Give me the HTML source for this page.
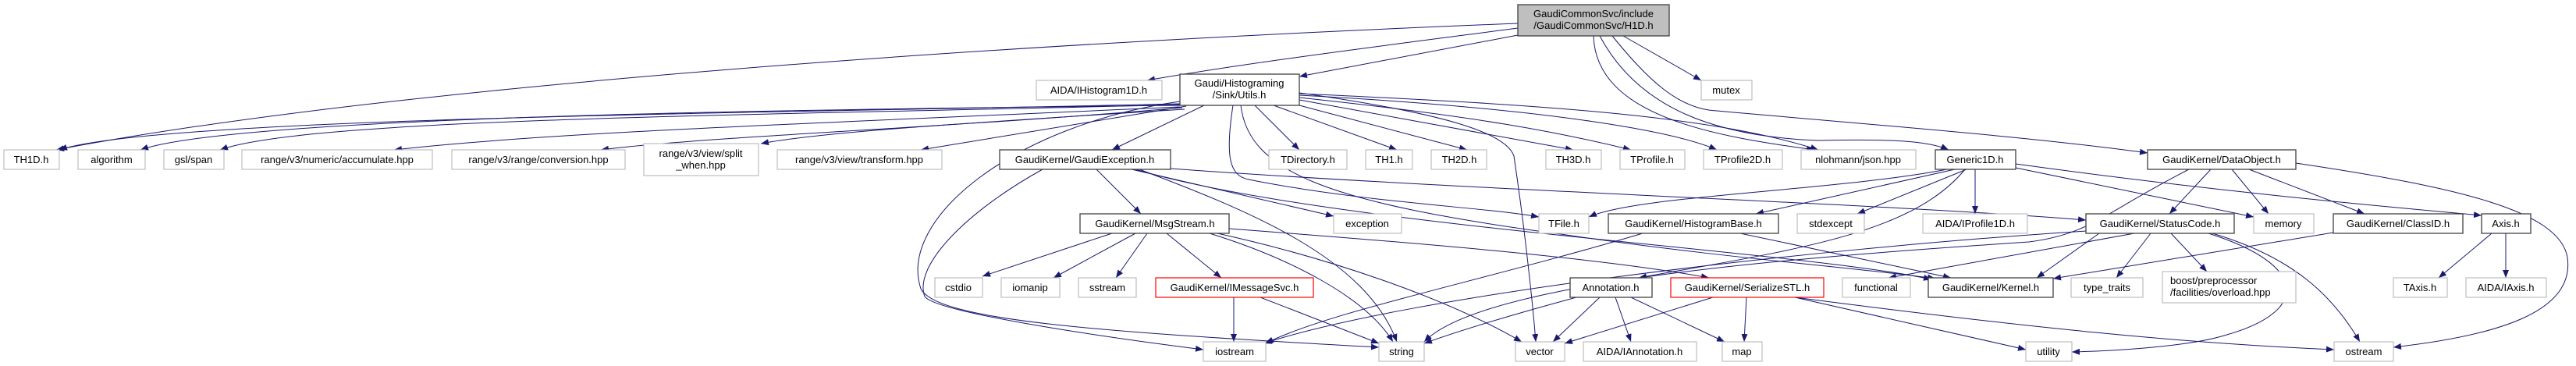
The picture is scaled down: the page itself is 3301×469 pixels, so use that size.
<!DOCTYPE html>
<html><head><meta charset="utf-8"><style>
html,body{margin:0;padding:0;background:#fff;}
svg{display:block;}
text{font-family:"Liberation Sans",sans-serif;font-size:13px;fill:#000;text-anchor:middle;}
.g{fill:#fff;stroke:#bfbfbf;stroke-width:1.2;}
.b{fill:#fff;stroke:#404040;stroke-width:1.3;}
.r{fill:#fff;stroke:#ff0000;stroke-width:1.2;}
.t{fill:#bfbfbf;stroke:#404040;stroke-width:1.3;}
path.e{fill:none;stroke:#191970;stroke-width:1;marker-end:url(#a);}
</style></head><body>
<svg width="3301" height="469" viewBox="0 0 3301 469" xmlns="http://www.w3.org/2000/svg">
<defs><marker id="a" markerUnits="userSpaceOnUse" markerWidth="11" markerHeight="8" refX="10" refY="4" orient="auto"><path d="M0,0 L10,4 L0,8 z" fill="#191970"/></marker></defs>
<g>
<!-- H1D -->
<path class="e" d="M1945,30 C1300,55 500,110 72,192"/>
<path class="e" d="M1945,36 C1800,55 1600,80 1470,103"/>
<path class="e" d="M1945,45 L1665,98"/>
<path class="e" d="M2042,46 C2045,150 2200,175 2325,192"/>
<path class="e" d="M2050,46 C2100,140 2200,175 2330,180 C2420,178 2470,180 2497,192"/>
<path class="e" d="M2066,46 C2110,100 2150,140 2200,142 C2400,160 2600,175 2752,196"/>
<path class="e" d="M2080,46 L2180,103"/>
<!-- Utils -->
<path class="e" d="M1512,133 C1000,145 200,150 76,192"/>
<path class="e" d="M1512,135 C1000,140 300,150 180,192"/>
<path class="e" d="M1512,134 C1000,148 400,150 282,192"/>
<path class="e" d="M1512,137 C1000,160 700,170 505,192"/>
<path class="e" d="M1515,138 C1200,165 900,175 770,192"/>
<path class="e" d="M1518,140 C1200,160 1050,170 975,184"/>
<path class="e" d="M1520,136 L1180,192"/>
<path class="e" d="M1543,135 L1425,192"/>
<path class="e" d="M1608,135 L1665,192"/>
<path class="e" d="M1632,135 L1790,192"/>
<path class="e" d="M1665,135 L1880,192"/>
<path class="e" d="M1665,128 L2016,192"/>
<path class="e" d="M1665,125 C1900,150 2000,170 2090,192"/>
<path class="e" d="M1665,122 C2000,140 2150,170 2200,192"/>
<path class="e" d="M1665,120 C2000,135 2200,150 2330,192"/>
<path class="e" d="M1580,135 C1570,200 1575,225 1600,230 C1750,260 1900,265 1972,278"/>
<path class="e" d="M1665,119 C1850,145 1930,170 1940,200 C1955,300 1965,400 1968,438"/>
<path class="e" d="M1512,130 C1300,160 1150,280 1180,370 C1200,410 1400,425 1767,445"/>
<path class="e" d="M1590,135 C1600,220 1700,260 2000,300 C2200,330 2400,345 2480,357"/>
<!-- GaudiException -->
<path class="e" d="M1405,217 L1462,274"/>
<path class="e" d="M1450,217 L1709,277"/>
<path class="e" d="M1460,217 C1600,270 1750,330 1790,438"/>
<path class="e" d="M1500,216 C1900,245 2400,260 2673,282"/>
<path class="e" d="M1455,217 C1700,290 2300,320 2475,358"/>
<path class="e" d="M1336,217 C1240,270 1170,340 1185,380 C1200,400 1400,430 1542,448"/>
<!-- MsgStream -->
<path class="e" d="M1425,299 L1259,354"/>
<path class="e" d="M1455,299 L1350,356"/>
<path class="e" d="M1470,299 L1430,356"/>
<path class="e" d="M1495,299 L1565,356"/>
<path class="e" d="M1550,299 C1650,330 1750,380 1785,438"/>
<path class="e" d="M1560,299 C1700,330 1850,380 1950,438"/>
<path class="e" d="M1575,293 C1800,310 2050,330 2190,356"/>
<!-- IMessageSvc -->
<path class="e" d="M1581,381 L1581,438"/>
<path class="e" d="M1615,381 L1767,440"/>
<!-- HistogramBase -->
<path class="e" d="M2105,299 C1900,360 1700,400 1622,440"/>
<path class="e" d="M2230,299 L2500,356"/>
<!-- Generic1D -->
<path class="e" d="M2495,217 C2350,245 2100,250 2036,278"/>
<path class="e" d="M2505,217 L2250,274"/>
<path class="e" d="M2520,217 L2380,274"/>
<path class="e" d="M2531,217 L2531,274"/>
<path class="e" d="M2518,217 C2450,300 2300,320 2100,356"/>
<path class="e" d="M2583,210 C2800,240 3000,260 3180,276"/>
<path class="e" d="M2583,215 L2888,278"/>
<!-- DataObject -->
<path class="e" d="M2833,217 L2780,274"/>
<path class="e" d="M2860,217 L2907,274"/>
<path class="e" d="M2882,217 L3030,274"/>
<path class="e" d="M2942,209 C3150,240 3280,270 3290,330 C3300,400 3200,430 3067,445"/>
<path class="e" d="M2805,217 C2700,270 2680,300 2600,310 C2300,330 1900,360 1825,438"/>
<!-- StatusCode -->
<path class="e" d="M2690,299 L2610,356"/>
<path class="e" d="M2735,299 L2420,356"/>
<path class="e" d="M2756,299 L2712,356"/>
<path class="e" d="M2782,299 L2828,348"/>
<path class="e" d="M2830,299 C2960,340 2960,400 2850,430 C2800,445 2700,450 2655,451"/>
<path class="e" d="M2835,299 C2940,330 2990,380 3024,438"/>
<path class="e" d="M2673,296 C2300,320 1800,380 1620,440"/>
<!-- ClassID, Axis -->
<path class="e" d="M2990,298 L2631,357"/>
<path class="e" d="M3193,299 L3125,356"/>
<path class="e" d="M3211,299 L3211,356"/>
<!-- Annotation -->
<path class="e" d="M2050,381 L1990,438"/>
<path class="e" d="M2070,381 L2090,438"/>
<path class="e" d="M2090,381 L2210,438"/>
<path class="e" d="M2020,381 C1950,400 1880,420 1825,440"/>
<!-- SerializeSTL -->
<path class="e" d="M2195,381 L2005,440"/>
<path class="e" d="M2238,381 L2235,438"/>
<path class="e" d="M2300,381 L2596,448"/>
<path class="e" d="M2300,381 C2600,420 2800,440 2991,448"/>
</g>
<g>
<rect class="t" x="1945" y="6" width="194" height="40"/><text x="2042" y="22">GaudiCommonSvc/include</text><text x="2042" y="37">/GaudiCommonSvc/H1D.h</text>
<rect class="g" x="1328" y="103" width="161" height="25"/><text x="1408" y="120">AIDA/IHistogram1D.h</text>
<rect class="b" x="1512" y="95" width="153" height="40"/><text x="1588" y="111">Gaudi/Histograming</text><text x="1588" y="126">/Sink/Utils.h</text>
<rect class="g" x="2180" y="103" width="65" height="25"/><text x="2212" y="120">mutex</text>

<rect class="g" x="5" y="192" width="71" height="25"/><text x="40" y="209">TH1D.h</text>
<rect class="g" x="100" y="192" width="86" height="25"/><text x="143" y="209">algorithm</text>
<rect class="g" x="210" y="192" width="77" height="25"/><text x="248" y="209">gsl/span</text>
<rect class="g" x="310" y="192" width="244" height="25"/><text x="432" y="209">range/v3/numeric/accumulate.hpp</text>
<rect class="g" x="579" y="192" width="222" height="25"/><text x="690" y="209">range/v3/range/conversion.hpp</text>
<rect class="g" x="825" y="184" width="147" height="41"/><text x="898" y="201">range/v3/view/split</text><text x="898" y="216">_when.hpp</text>
<rect class="g" x="996" y="192" width="211" height="25"/><text x="1101" y="209">range/v3/view/transform.hpp</text>
<rect class="b" x="1281" y="192" width="219" height="25"/><text x="1390" y="209">GaudiKernel/GaudiException.h</text>
<rect class="g" x="1626" y="192" width="100" height="25"/><text x="1676" y="209">TDirectory.h</text>
<rect class="g" x="1750" y="192" width="60" height="25"/><text x="1780" y="209">TH1.h</text>
<rect class="g" x="1834" y="192" width="71" height="25"/><text x="1870" y="209">TH2D.h</text>
<rect class="g" x="1981" y="192" width="71" height="25"/><text x="2016" y="209">TH3D.h</text>
<rect class="g" x="2076" y="192" width="83" height="25"/><text x="2117" y="209">TProfile.h</text>
<rect class="g" x="2183" y="192" width="101" height="25"/><text x="2233" y="209">TProfile2D.h</text>
<rect class="g" x="2308" y="192" width="147" height="25"/><text x="2381" y="209">nlohmann/json.hpp</text>
<rect class="b" x="2480" y="192" width="103" height="25"/><text x="2531" y="209">Generic1D.h</text>
<rect class="b" x="2752" y="192" width="190" height="25"/><text x="2847" y="209">GaudiKernel/DataObject.h</text>

<rect class="b" x="1384" y="274" width="191" height="25"/><text x="1480" y="291">GaudiKernel/MsgStream.h</text>
<rect class="g" x="1709" y="274" width="87" height="25"/><text x="1752" y="291">exception</text>
<rect class="g" x="1972" y="274" width="64" height="25"/><text x="2004" y="291">TFile.h</text>
<rect class="b" x="2061" y="274" width="218" height="25"/><text x="2170" y="291">GaudiKernel/HistogramBase.h</text>
<rect class="g" x="2303" y="274" width="86" height="25"/><text x="2346" y="291">stdexcept</text>
<rect class="g" x="2464" y="274" width="134" height="25"/><text x="2531" y="291">AIDA/IProfile1D.h</text>
<rect class="b" x="2673" y="274" width="190" height="25"/><text x="2768" y="291">GaudiKernel/StatusCode.h</text>
<rect class="g" x="2888" y="274" width="77" height="25"/><text x="2926" y="291">memory</text>
<rect class="b" x="2990" y="274" width="166" height="25"/><text x="3073" y="291">GaudiKernel/ClassID.h</text>
<rect class="b" x="3180" y="274" width="63" height="25"/><text x="3211" y="291">Axis.h</text>

<rect class="g" x="1198" y="356" width="61" height="25"/><text x="1228" y="373">cstdio</text>
<rect class="g" x="1283" y="356" width="75" height="25"/><text x="1320" y="373">iomanip</text>
<rect class="g" x="1382" y="356" width="74" height="25"/><text x="1419" y="373">sstream</text>
<rect class="r" x="1481" y="356" width="202" height="25"/><text x="1582" y="373">GaudiKernel/IMessageSvc.h</text>
<rect class="b" x="2012" y="356" width="105" height="25"/><text x="2064" y="373">Annotation.h</text>
<rect class="r" x="2141" y="356" width="196" height="25"/><text x="2239" y="373">GaudiKernel/SerializeSTL.h</text>
<rect class="g" x="2361" y="356" width="87" height="25"/><text x="2404" y="373">functional</text>
<rect class="b" x="2471" y="356" width="160" height="25"/><text x="2551" y="373">GaudiKernel/Kernel.h</text>
<rect class="g" x="2654" y="356" width="92" height="25"/><text x="2700" y="373">type_traits</text>
<rect class="g" x="2771" y="348" width="171" height="40"/><text x="2781" y="364" style="text-anchor:start">boost/preprocessor</text><text x="2781" y="379" style="text-anchor:start">/facilities/overload.hpp</text>
<rect class="g" x="3067" y="356" width="69" height="25"/><text x="3101" y="373">TAxis.h</text>
<rect class="g" x="3160" y="356" width="103" height="25"/><text x="3211" y="373">AIDA/IAxis.h</text>

<rect class="g" x="1542" y="438" width="80" height="25"/><text x="1582" y="455">iostream</text>
<rect class="g" x="1767" y="438" width="58" height="25"/><text x="1796" y="455">string</text>
<rect class="g" x="1942" y="438" width="63" height="25"/><text x="1973" y="455">vector</text>
<rect class="g" x="2029" y="438" width="145" height="25"/><text x="2101" y="455">AIDA/IAnnotation.h</text>
<rect class="g" x="2207" y="438" width="51" height="25"/><text x="2232" y="455">map</text>
<rect class="g" x="2596" y="438" width="59" height="25"/><text x="2625" y="455">utility</text>
<rect class="g" x="2991" y="438" width="76" height="25"/><text x="3029" y="455">ostream</text>
</g>
</svg>
</body></html>
